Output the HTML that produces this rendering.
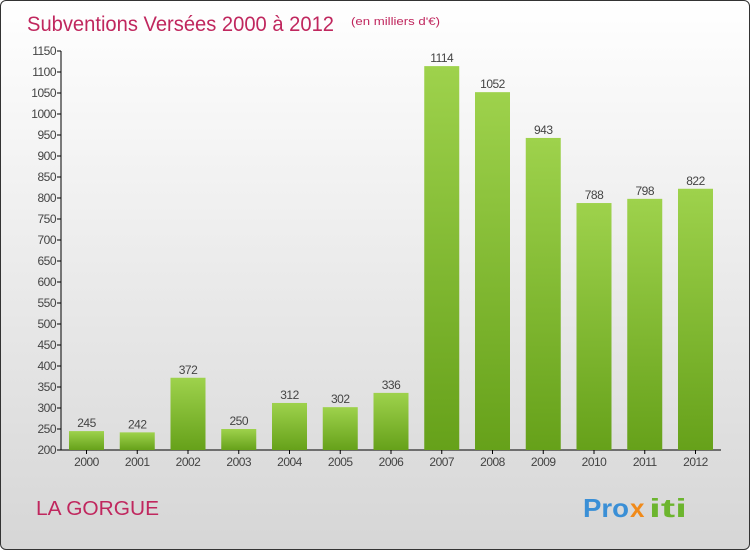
<!DOCTYPE html>
<html><head><meta charset="utf-8"><style>
body{margin:0;}
#wrap{position:relative;width:748px;height:548px;border:1px solid #333;border-radius:6px;background:linear-gradient(#ffffff,#d6d6d6);overflow:hidden;font-family:"Liberation Sans",sans-serif;}
</style></head><body>
<div id="wrap">
<svg id="chart" width="748" height="548">
<defs><linearGradient id="g" x1="0" y1="0" x2="0" y2="1"><stop offset="0" stop-color="#9ed24c"/><stop offset="1" stop-color="#66a11a"/></linearGradient></defs>
<text x="26" y="30" font-size="21" fill="#c0275e" textLength="307" lengthAdjust="spacingAndGlyphs">Subventions Versées 2000 à 2012</text>
<text x="350" y="24" font-size="11" fill="#c0275e" textLength="89" lengthAdjust="spacingAndGlyphs">(en milliers d'€)</text>
<text x="35" y="514" font-size="20" fill="#c0275e" textLength="123" lengthAdjust="spacingAndGlyphs">LA GORGUE</text>
<g font-size="26" font-weight="bold">
<text x="582" y="516" fill="#3a8fd6" textLength="46" lengthAdjust="spacingAndGlyphs">Pro</text><text x="629" y="516" fill="#f08a1a">x</text><text x="648" y="516" fill="#6cb52e" textLength="38" lengthAdjust="spacingAndGlyphs">iti</text>
</g>
<g id="axes"></g><g id="bars"></g>
</svg>
</div>
<script>
const categories=["2000","2001","2002","2003","2004","2005","2006","2007","2008","2009","2010","2011","2012"];
const values=[245,242,372,250,312,302,336,1114,1052,943,788,798,822];
const yTicks=[200,250,300,350,400,450,500,550,600,650,700,750,800,850,900,950,1000,1050,1100,1150];
const NS="http://www.w3.org/2000/svg";
const yMin=200,yMax=1150,y0=449,y1=50;
function y(v){return y0-(v-yMin)/(yMax-yMin)*(y0-y1);}
function x(i){return 85.5+i*50.75;}
function mk(t,a,p){const e=document.createElementNS(NS,t);for(const k in a)e.setAttribute(k,a[k]);p.appendChild(e);return e;}
const ax=document.getElementById('axes'),bs=document.getElementById('bars');
const yl=mk('line',{x1:60,y1:y1,x2:60,y2:y0,stroke:'#000'},ax);


const xl=mk('line',{x1:60,y1:y0,x2:720,y2:y0,stroke:'#000'},ax);


yTicks.forEach(v=>{
 mk('line',{x1:56,x2:60,y1:y(v),y2:y(v),stroke:'#000'},ax);
 const t=mk('text',{x:55,y:y(v)+4,'text-anchor':'end','font-size':12,fill:'#444','letter-spacing':'-0.5'},ax);
 t.textContent=v;
 
 
});
categories.forEach((c,i)=>{
 const cx=x(i),v=values[i];
 mk('line',{x1:cx,x2:cx,y1:y0,y2:y0+4,stroke:'#000'},ax);
 const t=mk('text',{x:cx,y:y0+16,'text-anchor':'middle','font-size':12,fill:'#444','letter-spacing':'-0.5'},ax);
 t.textContent=c;
 
 
 const r=mk('rect',{x:cx-17.5,y:y(v),width:35,height:y0-y(v),fill:'url(#g)'},bs);
 
 
 const l=mk('text',{x:cx,y:y(v)-4,'text-anchor':'middle','font-size':12,fill:'#444','letter-spacing':'-0.5'},bs);
 l.textContent=v;
 
 
});
</script>
</body></html>
